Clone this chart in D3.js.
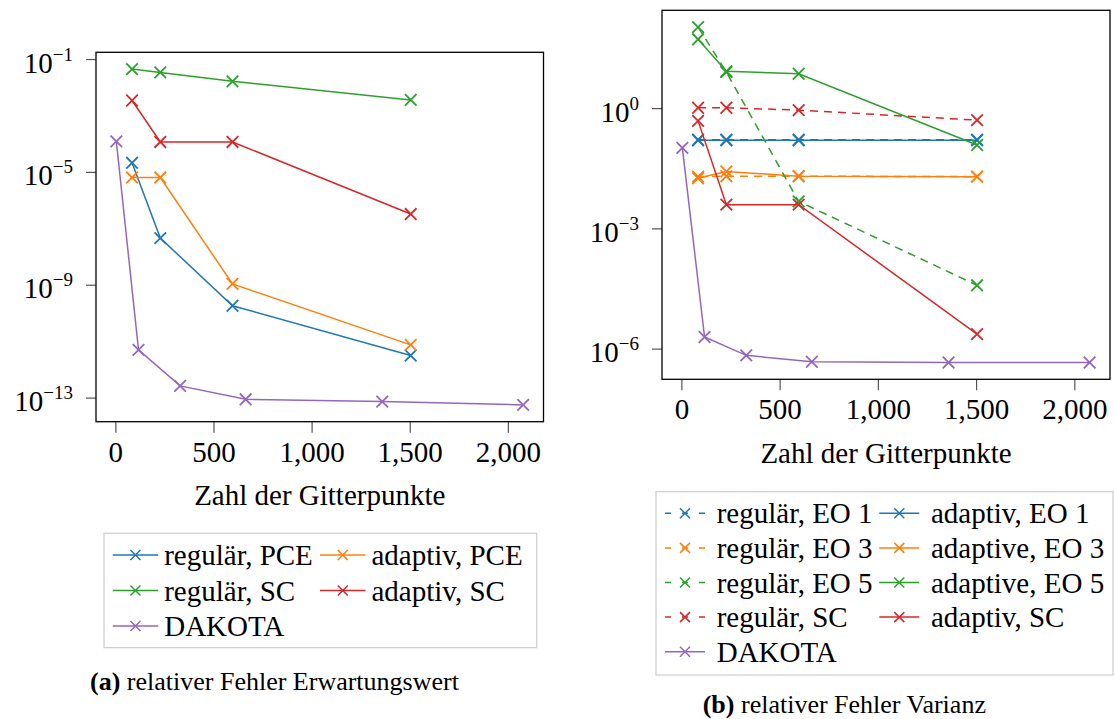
<!DOCTYPE html>
<html>
<head>
<meta charset="utf-8">
<script src="https://cdn.jsdelivr.net/npm/d3@7/dist/d3.min.js"></script>
<style>
  html, body { margin: 0; padding: 0; background: #fff; }
  svg { display: block; }
</style>
</head>
<body>
<script>
// ---------------- DATA ----------------
// x positions (Zahl der Gitterpunkte)
const gridX   = [85, 229, 597, 1505];
const dakotaX = [5, 118, 330, 664, 1360, 2078];

// (a) relativer Fehler Erwartungswert
const a_regPCE   = [2.1e-5, 4.5e-8, 1.8e-10, 3.1e-12];
const a_adaPCE   = [6.3e-6, 6.3e-6, 1.07e-9, 7.4e-12];
const a_regSC    = [0.044, 0.0335, 0.0162, 0.00355];
const a_adaSC    = [0.0034, 1.15e-4, 1.15e-4, 3.2e-7];
const a_dakota   = [1.2e-4, 4.9e-12, 2.6e-13, 8.7e-14, 7.2e-14, 5.5e-14];

// (b) relativer Fehler Varianz
const b_regEO1   = [0.162, 0.162, 0.162, 0.162];
const b_adaEO1   = [0.158, 0.158, 0.158, 0.158];
const b_regEO3   = [0.0195, 0.020, 0.020, 0.0195];
const b_adaEO3   = [0.0178, 0.0263, 0.020, 0.0195];
const b_regEO5   = [105, 7.9, 0.0047, 3.8e-5];
const b_adaEO5   = [52, 8.3, 7.2, 0.12];
const b_regSC    = [1.02, 1.02, 0.89, 0.50];
const b_adaSC    = [0.48, 0.0039, 0.0039, 2.3e-6];
const b_dakota   = [0.102, 1.95e-6, 6.8e-7, 4.7e-7, 4.5e-7, 4.5e-7];

// tick values
const xTicks  = [0, 500, 1000, 1500, 2000];
const aYTicks = [-1, -5, -9, -13];   // exponents
const bYTicks = [0, -3, -6];

// labels
const xTitle   = "Zahl der Gitterpunkte";
const aLabels  = ["regulär, PCE", "adaptiv, PCE", "regulär, SC", "adaptiv, SC", "DAKOTA"];
const bLabels  = ["regulär, EO 1", "adaptiv, EO 1", "regulär, EO 3", "adaptive, EO 3",
                  "regulär, EO 5", "adaptive, EO 5", "regulär, SC", "adaptiv, SC", "DAKOTA"];

// ---------------- STYLE ----------------
const C = { blue: "#1f77b4", orange: "#ff7f0e", green: "#2ca02c", red: "#d62728", purple: "#9467bd" };
const FONT = "'Liberation Serif', 'Times New Roman', Times, serif";
const FS = 29, SUP = 19;

const aSeries = [
  { label: aLabels[0], x: gridX,   y: a_regPCE, color: C.blue,   dash: false },
  { label: aLabels[1], x: gridX,   y: a_adaPCE, color: C.orange, dash: false },
  { label: aLabels[2], x: gridX,   y: a_regSC,  color: C.green,  dash: false },
  { label: aLabels[3], x: gridX,   y: a_adaSC,  color: C.red,    dash: false },
  { label: aLabels[4], x: dakotaX, y: a_dakota, color: C.purple, dash: false }
];
const bSeries = [
  { label: bLabels[0], x: gridX,   y: b_regEO1, color: C.blue,   dash: true },
  { label: bLabels[1], x: gridX,   y: b_adaEO1, color: C.blue,   dash: false },
  { label: bLabels[2], x: gridX,   y: b_regEO3, color: C.orange, dash: true },
  { label: bLabels[3], x: gridX,   y: b_adaEO3, color: C.orange, dash: false },
  { label: bLabels[4], x: gridX,   y: b_regEO5, color: C.green,  dash: true },
  { label: bLabels[5], x: gridX,   y: b_adaEO5, color: C.green,  dash: false },
  { label: bLabels[6], x: gridX,   y: b_regSC,  color: C.red,    dash: true },
  { label: bLabels[7], x: gridX,   y: b_adaSC,  color: C.red,    dash: false },
  { label: bLabels[8], x: dakotaX, y: b_dakota, color: C.purple, dash: false }
];

const svg = d3.select("body").append("svg")
  .attr("width", 1115).attr("height", 719)
  .style("font-family", FONT);

function cross(g, cx, cy, color, r, w) {
  r = r || 5.8;
  g.append("path")
    .attr("d", `M${cx - r},${cy - r}L${cx + r},${cy + r}M${cx - r},${cy + r}L${cx + r},${cy - r}`)
    .attr("stroke", color).attr("stroke-width", w || 1.8).attr("fill", "none");
}

function panel(cfg) {
  const { x0, x1, y0, y1, series, yTicks } = cfg;
  const allX = series.flatMap(s => s.x);
  const allY = series.flatMap(s => s.y).map(v => Math.log10(v));
  const xmin = d3.min(allX), xmax = d3.max(allX);
  const ymin = d3.min(allY), ymax = d3.max(allY);
  const ex = 0.05 * (xmax - xmin), ey = 0.05 * (ymax - ymin);

  const x = d3.scaleLinear().domain([xmin - ex, xmax + ex]).range([x0, x1]);
  const y = d3.scaleLog().domain([Math.pow(10, ymin - ey), Math.pow(10, ymax + ey)]).range([y1, y0]);

  const g = svg.append("g");

  // x axis
  const xa = g.append("g").attr("transform", `translate(0,${y1})`)
    .call(d3.axisBottom(x).tickValues(xTicks).tickSize(11).tickFormat(d3.format(",")));
  xa.select(".domain").remove();
  xa.selectAll(".tick line").attr("stroke", "#555").attr("stroke-width", 1.2);
  xa.selectAll(".tick text").attr("y", 40).attr("dy", 0)
    .attr("font-size", FS).attr("font-family", FONT).attr("fill", "#000");

  // y axis
  const ya = g.append("g").attr("transform", `translate(${x0},0)`)
    .call(d3.axisLeft(y).tickValues(yTicks.map(e => Math.pow(10, e))).tickSize(10).tickPadding(13));
  ya.select(".domain").remove();
  ya.selectAll(".tick line").attr("stroke", "#555").attr("stroke-width", 1.2);
  ya.selectAll(".tick text").each(function (d) {
    const t = d3.select(this);
    const e = Math.round(Math.log10(d));
    t.text(null).attr("dy", 13).attr("font-size", FS).attr("font-family", FONT).attr("fill", "#000");
    t.append("tspan").text("10");
    t.append("tspan").attr("font-size", SUP).attr("dy", -12).text(e < 0 ? "\u2212" + (-e) : String(e));
  });

  // axis title
  g.append("text").attr("x", (x0 + x1) / 2).attr("y", y1 + cfg.titleOff)
    .attr("text-anchor", "middle").attr("font-size", FS).text(xTitle);

  // data
  const clip = "clip" + cfg.id;
  svg.append("clipPath").attr("id", clip).append("rect")
    .attr("x", x0).attr("y", y0).attr("width", x1 - x0).attr("height", y1 - y0);
  const dg = g.append("g").attr("clip-path", `url(#${clip})`);
  const line = d3.line().x(d => x(d[0])).y(d => y(d[1]));
  series.forEach(s => {
    const pts = s.x.map((xv, i) => [xv, s.y[i]]);
    dg.append("path").attr("d", line(pts)).attr("fill", "none")
      .attr("stroke", s.color).attr("stroke-width", 1.5)
      .attr("stroke-dasharray", s.dash ? "8,6" : null);
    pts.forEach(p => cross(dg, x(p[0]), y(p[1]), s.color));
  });

  // frame
  g.append("rect").attr("x", x0).attr("y", y0).attr("width", x1 - x0).attr("height", y1 - y0)
    .attr("fill", "none").attr("stroke", "#000").attr("stroke-width", 1.3);

  // legend
  const L = cfg.legend;
  const lg = svg.append("g");
  lg.append("rect").attr("x", L.x0).attr("y", L.y0).attr("width", L.x1 - L.x0).attr("height", L.y1 - L.y0)
    .attr("fill", "#fff").attr("stroke", "#ccc").attr("stroke-width", 1.2);
  series.forEach((s, i) => {
    const col = i % 2, row = Math.floor(i / 2);
    const cy = L.rowY0 + row * L.rowH;
    const lx0 = L.cols[col], lx1 = lx0 + L.lineW;
    lg.append("line").attr("x1", lx0).attr("x2", lx1).attr("y1", cy).attr("y2", cy)
      .attr("stroke", s.color).attr("stroke-width", 1.5)
      .attr("stroke-dasharray", s.dash ? "6,11" : null);
    cross(lg, (lx0 + lx1) / 2, cy, s.color, 5, 1.5);
    lg.append("text").attr("x", lx1 + L.gap).attr("y", cy + 10)
      .attr("font-size", FS).attr("fill", "#000").text(s.label);
  });

  // caption
  const cap = svg.append("text").attr("x", cfg.cap.x).attr("y", cfg.cap.y).attr("font-size", 26).attr("fill", "#000");
  cap.append("tspan").attr("font-weight", "bold").text("(" + cfg.cap.letter + ")");
  cap.append("tspan").text(" " + cfg.cap.text);
}

panel({
  id: "a", x0: 96, x1: 543.5, y0: 52.3, y1: 421.7, series: aSeries, yTicks: aYTicks, titleOff: 83,
  legend: { x0: 104, x1: 536.7, y0: 533.3, y1: 647.7, rowY0: 555, rowH: 35.5, cols: [112.7, 320], lineW: 45.5, gap: 6 },
  cap: { x: 90, y: 690, letter: "a", text: "relativer Fehler Erwartungswert" }
});
panel({
  id: "b", x0: 662, x1: 1110, y0: 10.3, y1: 379.3, series: bSeries, yTicks: bYTicks, titleOff: 84,
  legend: { x0: 656, x1: 1113, y0: 491.7, y1: 675, rowY0: 513.3, rowH: 34.6, cols: [665, 879.3], lineW: 40, gap: 11.7 },
  cap: { x: 702.7, y: 713, letter: "b", text: "relativer Fehler Varianz" }
});
</script>
</body>
</html>
